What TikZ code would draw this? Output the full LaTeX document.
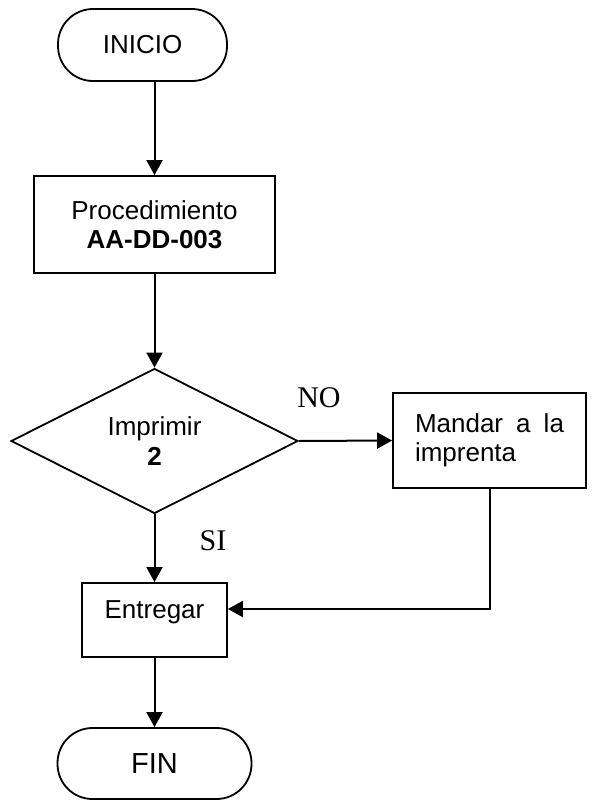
\documentclass[tikz,border=0pt]{standalone}
\usepackage{fontspec}
\setmainfont{Liberation Sans}
\newfontfamily\rotulofont{Liberation Serif}
\usetikzlibrary{shapes.geometric,arrows.meta}

\begin{document}
\begin{tikzpicture}[x=1pt,y=-1pt,
    >={Triangle[width=16pt,length=15pt]},
    flecha/.style={->,line width=2pt},
    terminal/.style={draw,line width=1.8pt,rectangle,rounded corners=35pt,
      inner sep=0pt,font=\fontsize{26}{29.5}\selectfont},
    proceso/.style={draw,line width=1.8pt,rectangle,inner sep=2pt,
      font=\fontsize{26}{29.5}\selectfont},
    decision/.style={draw,line width=1.8pt,diamond,aspect=2,inner sep=0pt,
      minimum width=287pt,minimum height=145pt,align=center,
      font=\fontsize{26}{29.5}\selectfont},
    rotulo/.style={inner sep=0pt,font=\rotulofont\fontsize{30}{30}\selectfont}]
    \useasboundingbox (0,0) rectangle (593,801);

    \node[terminal,minimum width=169pt,minimum height=72pt] (inicio) at (142.5,45) {INICIO};
    \node[proceso,minimum width=241pt,minimum height=97pt,align=center] (proc) at (154.5,224.5)
      {Procedimiento\\\textbf{AA-DD-003}};
    \node[decision] (imprimir) at (154.5,441) {Imprimir\\\textbf{2}};
    \node[proceso,minimum width=193pt,minimum height=95pt,text width=149pt,align=justify]
      (mandar) at (489.5,440.5) {Mandar a la imprenta};
    \node[proceso,minimum width=145pt,minimum height=74pt,text height=19pt,text depth=23pt]
      (entregar) at (154.5,620) {Entregar};
    \node[terminal,minimum width=194pt,minimum height=71pt,font=\fontsize{29}{32}\selectfont]
      (fin) at (154.5,763.5) {FIN};

    \node[rotulo] (no) at (319,398) {NO};
    \node[rotulo] (si) at (213,541) {SI};

    \draw[flecha] (inicio.south -| proc.north) -- (proc.north);
    \draw[flecha] (proc.south) -- (imprimir.north);
    \draw[flecha] (imprimir.east) -- (mandar.west);
    \draw[flecha] (imprimir.south) -- (entregar.north);
    \draw[flecha] (mandar.south) |- ([yshift=11pt]entregar.east);
    \draw[flecha] (entregar.south) -- (fin.north);
  \end{tikzpicture}
\end{document}
